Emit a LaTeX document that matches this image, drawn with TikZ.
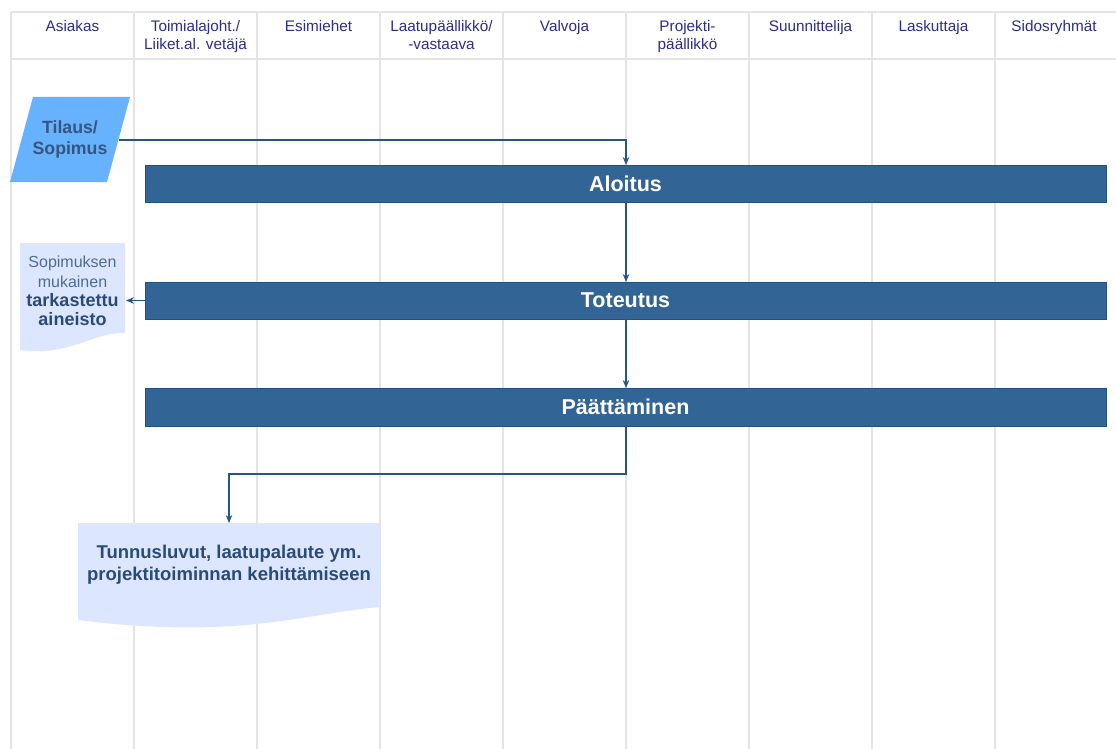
\documentclass[tikz,border=0pt]{standalone}
\usepackage{fontspec}
\setmainfont{Liberation Sans}
\usetikzlibrary{arrows.meta}
\definecolor{gridgray}{RGB}{228,228,228}
\definecolor{headtext}{RGB}{45,45,140}
\definecolor{barfill}{RGB}{50,100,150}
\definecolor{barline}{RGB}{35,80,130}
\definecolor{arrowc}{RGB}{40,85,135}
\definecolor{paral}{RGB}{102,178,255}
\definecolor{docfill}{RGB}{221,230,255}
\definecolor{doctext}{RGB}{40,75,120}
\definecolor{doclight}{RGB}{75,110,150}
\definecolor{paratext}{RGB}{55,85,125}
\tikzset{
  gridline/.style={draw=gridgray, line width=2pt},
  headlabel/.style={anchor=north, align=center, text=headtext, inner sep=0pt,
    font=\fontsize{15.3}{18.5}\selectfont},
  phasebar/.style={draw=barline, fill=barfill, line width=1pt},
  phasetext/.style={text=white, font=\fontsize{21.5}{24}\selectfont\bfseries, inner sep=0pt},
  flow/.style={draw=arrowc, line width=1.6pt, -{Stealth[length=8pt,width=6.5pt]}},
  docshape/.style={fill=docfill, draw=none},
}
\begin{document}
\begin{tikzpicture}[x=1pt,y=-1pt]
\useasboundingbox (0,0) rectangle (1116,749);
\fill[white] (0,0) rectangle (1116,749);
% grid
\foreach \x in {11,134,257,380,503,626,749,872,995}
  \draw[gridline] (\x,12) -- (\x,749);
\draw[gridline] (11,12) -- (1116,12);
\draw[gridline] (11,59) -- (1116,59);
% headers
\node[headlabel] (h1) at (72.5,20) {Asiakas};
\node[headlabel] (h2) at (195.5,20) {Toimialajoht./\\Liiket.al. vetäjä};
\node[headlabel] (h3) at (318.5,20) {Esimiehet};
\node[headlabel] (h4) at (441.5,20) {Laatupäällikkö/\\-vastaava};
\node[headlabel] (h5) at (564.5,20) {Valvoja};
\node[headlabel] (h6) at (687.5,20) {Projekti-\\päällikkö};
\node[headlabel] (h7) at (810.5,20) {Suunnittelija};
\node[headlabel] (h8) at (933.5,20) {Laskuttaja};
\node[headlabel] (h9) at (1054,20) {Sidosryhmät};
% parallelogram
\fill[paral] (33,97) -- (130,97) -- (107,182) -- (10,182) -- cycle;
\node[align=center, text=paratext, font=\fontsize{17.7}{21}\selectfont\bfseries, inner sep=0pt] (tilaus) at (70,139) {Tilaus/\\Sopimus};
\coordinate (tilausR) at (119,140);
% phase bars
\draw[phasebar] (145,165) rectangle (1106,202);
\node[phasetext] (aloitus) at (625.5,183.5) {Aloitus};
\draw[phasebar] (145,282) rectangle (1106,319);
\node[phasetext] (toteutus) at (625.5,300.5) {Toteutus};
\draw[phasebar] (145,388) rectangle (1106,426);
\node[phasetext] (paatt) at (625.5,407) {Päättäminen};
\coordinate (aloT) at (626,165);
\coordinate (aloB) at (626,202);
\coordinate (totT) at (626,282);
\coordinate (totB) at (626,319);
\coordinate (totL) at (145,300.5);
\coordinate (paaT) at (626,388);
\coordinate (paaB) at (626,426);
% document 1
\path[docshape] (20,243) -- (125,243) -- (125,333)
  .. controls (95,331) and (70,357) .. (20,350) -- cycle;
\node[align=center, inner sep=0pt, font=\fontsize{16}{19.3}\selectfont] (doc1) at (72.5,291)
  {\textcolor{doclight}{Sopimuksen}\\\textcolor{doclight}{mukainen}\\
   \textcolor{doctext}{\bfseries\fontsize{18}{19.3}\selectfont tarkastettu}\\
   \textcolor{doctext}{\bfseries\fontsize{18}{19.3}\selectfont aineisto}};
\coordinate (doc1R) at (126,300.5);
% document 2
\path[docshape] (78,523) -- (380,523) -- (380,607)
  .. controls (300,614) and (240,640) .. (78,620) -- cycle;
\node[align=center, inner sep=0pt, text=doctext, font=\fontsize{18.5}{22}\selectfont\bfseries] (doc2) at (229,565)
  {Tunnusluvut, laatupalaute ym.\\projektitoiminnan kehittämiseen};
\coordinate (doc2T) at (229,523);
% connectors
\draw[flow] (tilausR) -| (aloT);
\draw[flow] (aloB) -- (totT);
\draw[flow] (totB) -- (paaT);
\draw[flow] (totL) -- (doc1R);
\draw[flow] (paaB) |- (400,474) -| (doc2T);
\end{tikzpicture}
\end{document}
